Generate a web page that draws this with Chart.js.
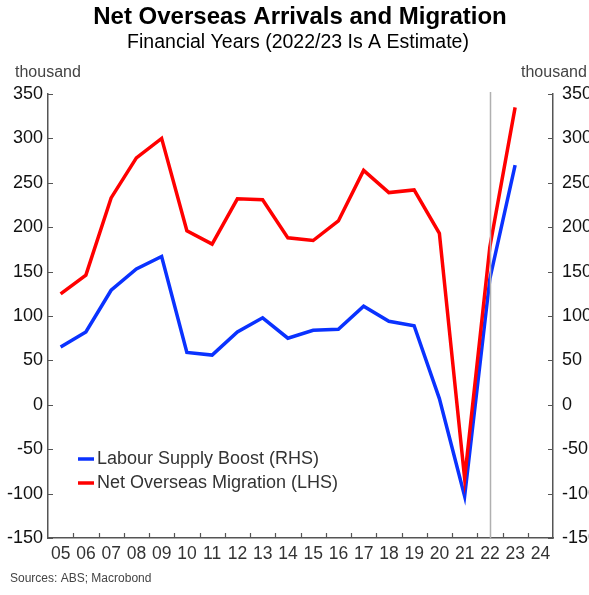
<!DOCTYPE html>
<html>
<head>
<meta charset="utf-8">
<script src="https://cdn.jsdelivr.net/npm/chart.js@4/dist/chart.umd.min.js"></script>
<style>
  html, body { margin: 0; padding: 0; background: #fff; }
  #wrap { width: 589px; height: 595px; position: relative; }
</style>
</head>
<body>
<div id="wrap"><canvas id="chart" width="589" height="595"></canvas></div>
<script>
// financial years, 2004/05 .. 2023/24
const years = ['05', '06', '07', '08', '09', '10', '11', '12', '13', '14',
               '15', '16', '17', '18', '19', '20', '21', '22', '23', '24'];

// thousand, left axis
const netOverseasMigration = [125, 146, 233, 278, 300, 196, 181, 232, 231, 188,
                              185, 207, 264, 239, 242, 193, -83, 178, 335, null];

// thousand, right axis
const labourSupplyBoost = [65, 82, 129, 153, 167, 59, 56, 82, 98, 75,
                           84, 85, 111, 94, 89, 7, -103, 142, 270, null];

const yTicks = { min: -150, max: 350, step: 50 };
const estimateYear = '22';

const FONT = '"Liberation Sans", Arial, sans-serif';

// title, axis units, legend, source note and the small inside tick marks
const decorPlugin = {
    id: 'decor',
    afterDraw(chart) {
        const ctx = chart.ctx;
        const x = chart.scales.x, yl = chart.scales.yL;
        ctx.save();

        // estimate marker
        const xe = Math.round(x.getPixelForValue(years.indexOf(estimateYear))) + 0.5;
        ctx.strokeStyle = '#b0b0b0';
        ctx.lineWidth = 1.5;
        ctx.beginPath();
        ctx.moveTo(xe, yl.getPixelForValue(yTicks.max) - 2);
        ctx.lineTo(xe, yl.getPixelForValue(yTicks.min));
        ctx.stroke();

        // inside ticks
        ctx.strokeStyle = '#555';
        ctx.lineWidth = 1.2;
        ctx.beginPath();
        for (let v = yTicks.min; v <= yTicks.max; v += yTicks.step) {
            const py = Math.round(yl.getPixelForValue(v)) + 0.5;
            ctx.moveTo(x.left, py); ctx.lineTo(x.left + 5, py);
            ctx.moveTo(x.right, py); ctx.lineTo(x.right - 5, py);
        }
        for (let i = 1; i < years.length; i++) {
            const px = Math.round(x.getPixelForValue(i - 0.5)) + 0.5;
            ctx.moveTo(px, yl.bottom); ctx.lineTo(px, yl.bottom - 5);
        }
        ctx.stroke();

        // titles
        ctx.fillStyle = '#000';
        ctx.textAlign = 'center';
        ctx.textBaseline = 'middle';
        ctx.font = 'bold 24px ' + FONT;
        ctx.fillText('Net Overseas Arrivals and Migration', 300, 17);
        ctx.font = '19.5px ' + FONT;
        ctx.fillText('Financial Years (2022/23 Is A Estimate)', 298, 43);

        // units
        ctx.fillStyle = '#444';
        ctx.font = '16px ' + FONT;
        ctx.textAlign = 'left';
        ctx.fillText('thousand', 15, 73);
        ctx.fillText('thousand', 521, 73);

        // legend
        const items = [
            { label: 'Labour Supply Boost (RHS)', color: '#0a32ff', y: 459 },
            { label: 'Net Overseas Migration (LHS)', color: '#ff0000', y: 483 }
        ];
        ctx.font = '18px ' + FONT;
        items.forEach(it => {
            ctx.strokeStyle = it.color;
            ctx.lineWidth = 3.5;
            ctx.beginPath();
            ctx.moveTo(78, it.y); ctx.lineTo(94, it.y);
            ctx.stroke();
            ctx.fillStyle = '#333';
            ctx.fillText(it.label, 97, it.y);
        });

        // source
        ctx.fillStyle = '#444';
        ctx.font = '12px ' + FONT;
        ctx.fillText('Sources: ABS; Macrobond', 10, 579);
        ctx.restore();
    }
};

new Chart(document.getElementById('chart'), {
    type: 'line',
    data: {
        labels: years,
        datasets: [
            {
                label: 'Net Overseas Migration (LHS)',
                data: netOverseasMigration,
                yAxisID: 'yL',
                borderColor: '#ff0000',
                borderWidth: 3.5,
                pointRadius: 0,
                tension: 0
            },
            {
                label: 'Labour Supply Boost (RHS)',
                data: labourSupplyBoost,
                yAxisID: 'yR',
                borderColor: '#0a32ff',
                borderWidth: 3.5,
                pointRadius: 0,
                tension: 0
            }
        ]
    },
    options: {
        responsive: false,
        animation: false,
        layout: { padding: { top: 94, left: 0, right: 0, bottom: 0 } },
        plugins: {
            legend: { display: false },
            title: { display: false },
            tooltip: { enabled: false }
        },
        scales: {
            x: {
                offset: true,
                grid: { display: false, drawTicks: false },
                border: { display: true, color: '#555', width: 1.5 },
                ticks: { font: { family: FONT, size: 17.5 }, color: '#333', padding: 6, maxRotation: 0, autoSkip: false },
                afterFit: s => { s.height = 57; }
            },
            yL: {
                position: 'left',
                min: yTicks.min, max: yTicks.max,
                grid: { display: false, drawTicks: false },
                border: { display: true, color: '#555', width: 1.5 },
                ticks: { stepSize: yTicks.step, font: { family: FONT, size: 18 }, color: '#111', padding: 5 },
                afterFit: s => { s.width = 48; }
            },
            yR: {
                position: 'right',
                min: yTicks.min, max: yTicks.max,
                grid: { display: false, drawTicks: false },
                border: { display: true, color: '#555', width: 1.5 },
                ticks: { stepSize: yTicks.step, font: { family: FONT, size: 18 }, color: '#111', padding: 9 },
                afterFit: s => { s.width = 36; }
            }
        }
    },
    plugins: [decorPlugin]
});
</script>
</body>
</html>
